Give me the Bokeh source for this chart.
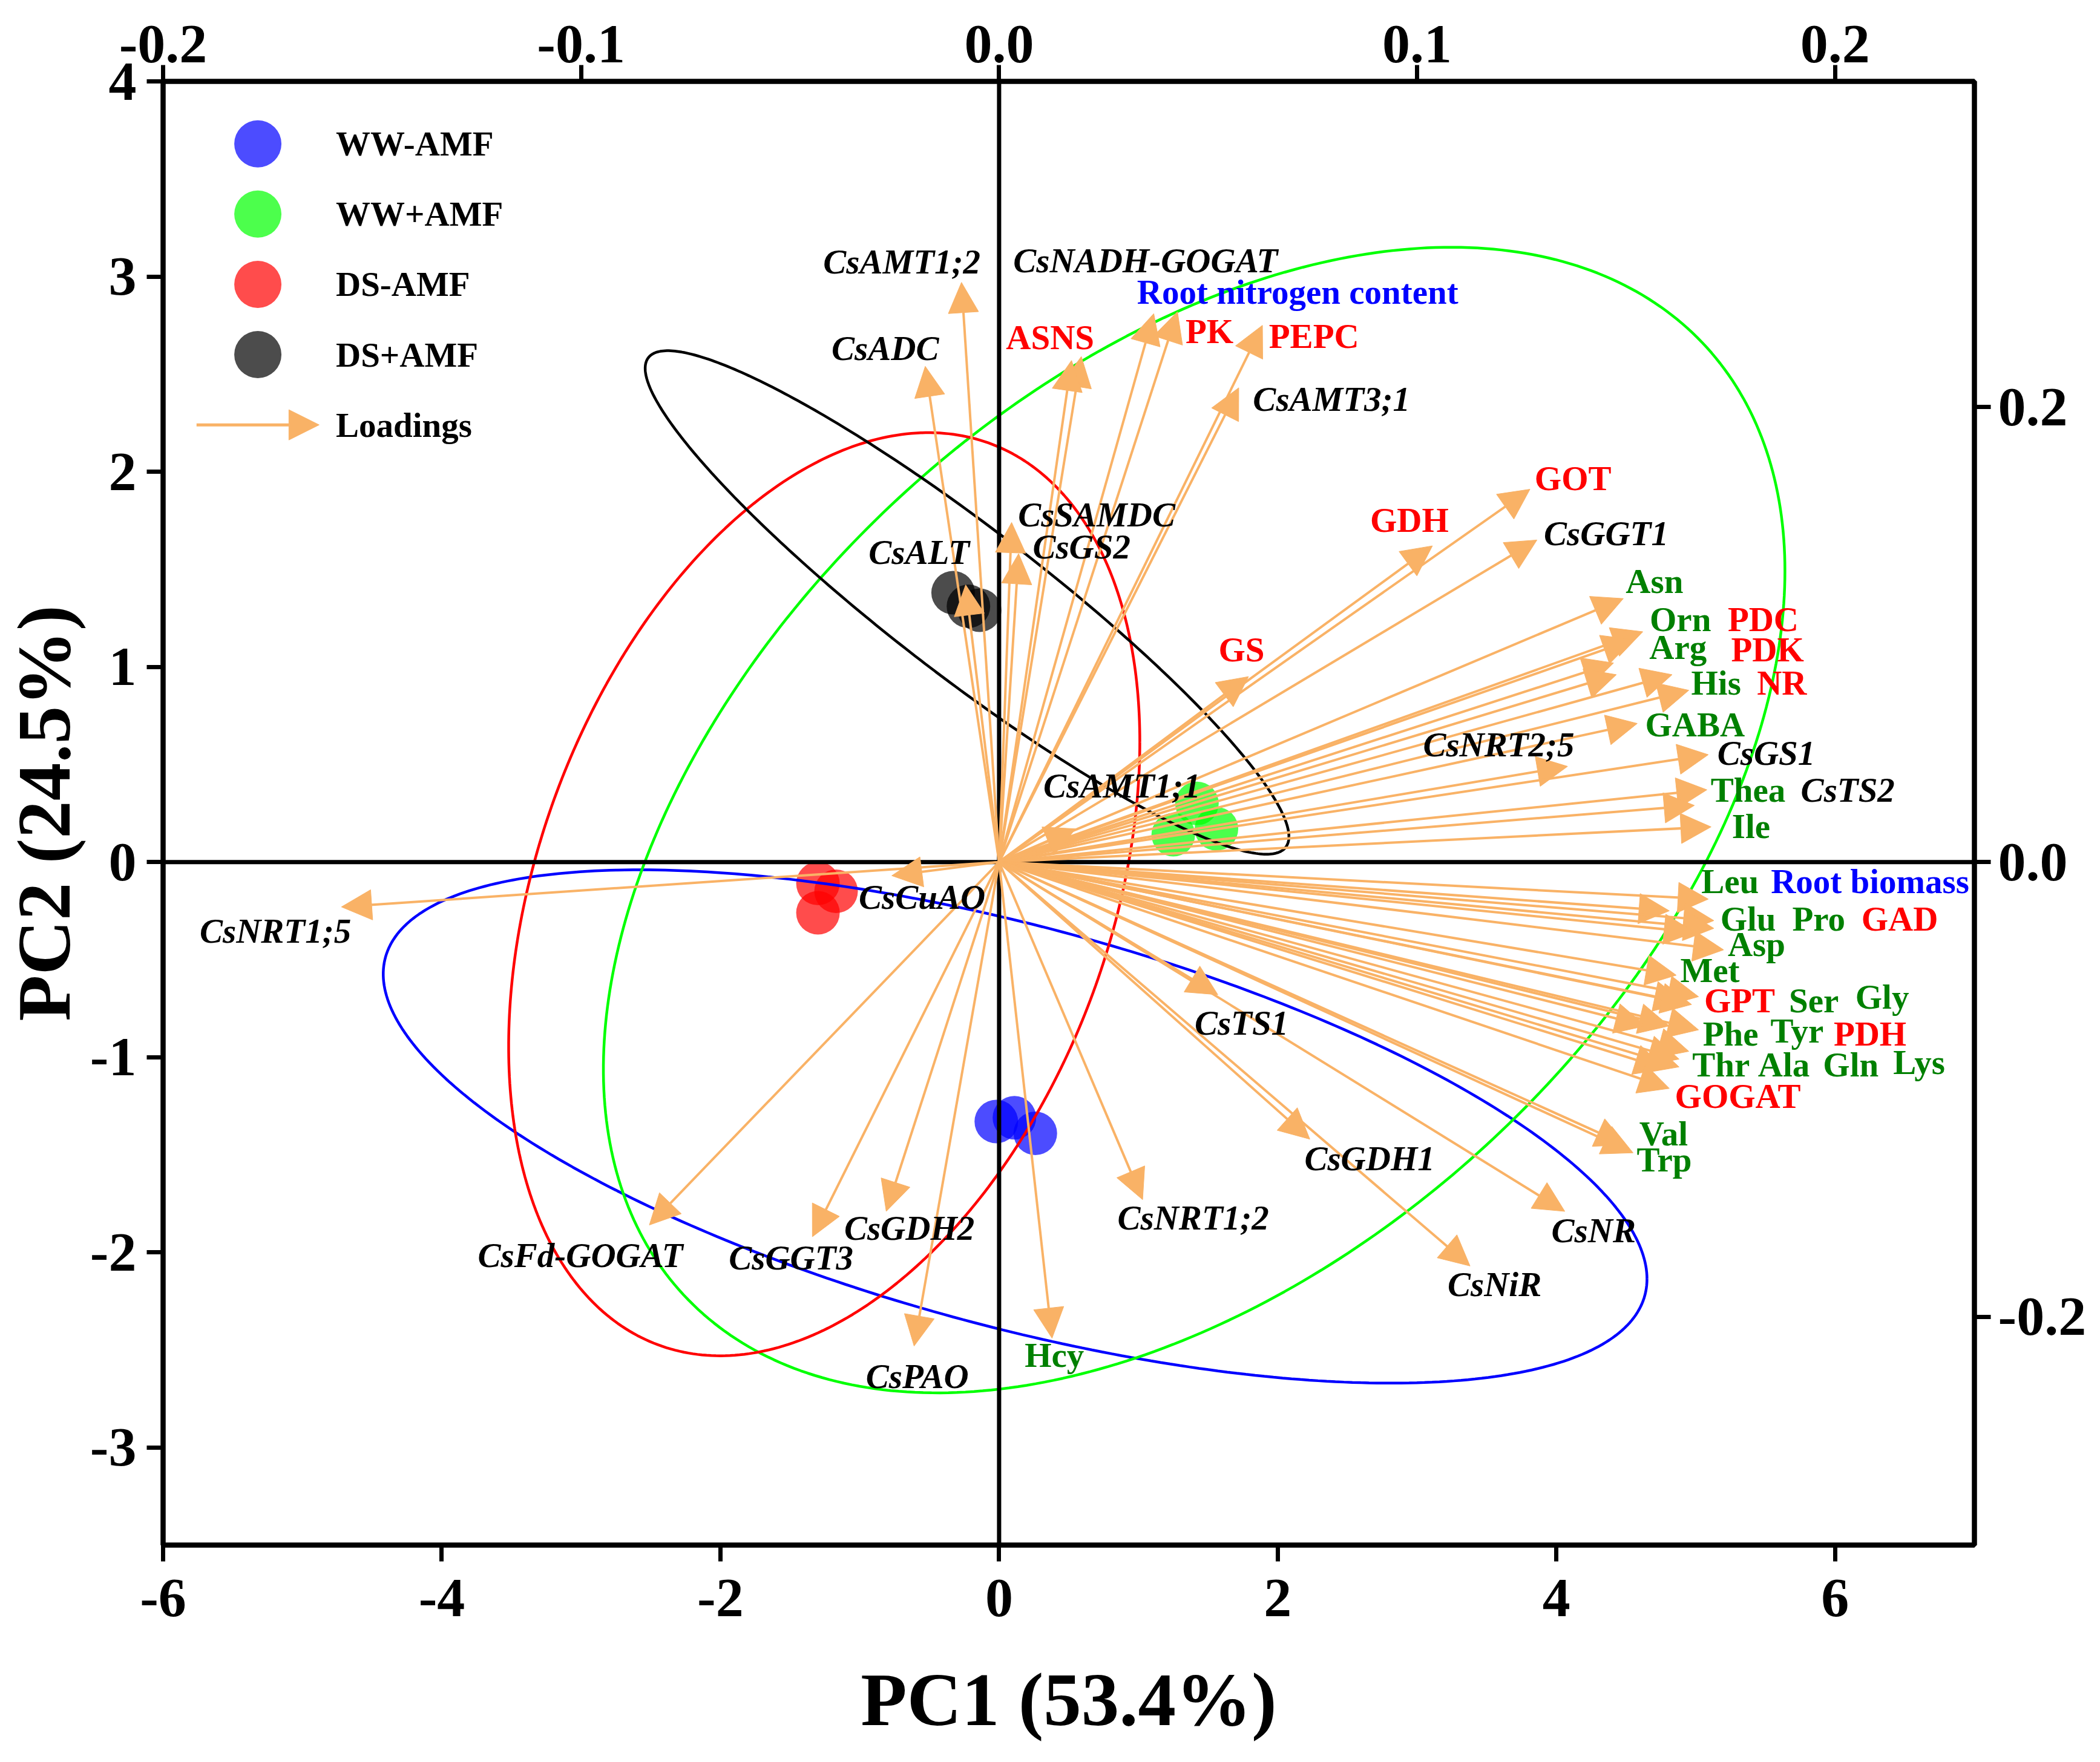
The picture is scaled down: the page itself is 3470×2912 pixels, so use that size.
import numpy as np
from bokeh.plotting import figure
from bokeh.models import (ColumnDataSource, Range1d, LinearAxis, FixedTicker, Arrow,
                          NormalHead, Span, LabelSet, PrintfTickFormatter)
from bokeh.core.properties import value
from bokeh.embed import file_html
from bokeh.resources import INLINE

# ---------------- data ----------------
groups = ["WW-AMF", "WW+AMF", "DS-AMF", "DS+AMF"]
group_colors = ["#0000FF", "#00FF00", "#FF0000", "#000000"]

# sample scores (PC1, PC2)
ww_minus_pc1 = [-0.02, 0.11, 0.26]
ww_minus_pc2 = [-1.33, -1.31, -1.39]
ww_plus_pc1 = [1.42, 1.25, 1.56]
ww_plus_pc2 = [0.30, 0.14, 0.17]
ds_minus_pc1 = [-1.30, -1.17, -1.30]
ds_minus_pc2 = [-0.11, -0.15, -0.26]
ds_plus_pc1 = [-0.33, -0.22, -0.14]
ds_plus_pc2 = [1.38, 1.31, 1.29]

# confidence ellipses: centre, half extent in x and y, correlation
ell_cx = [0.115, 1.40, -1.255, -0.23]
ell_cy = [-1.355, 0.215, -0.165, 1.33]
ell_sx = [4.535, 4.24, 2.265, 2.31]
ell_sy = [1.315, 2.935, 2.365, 1.29]
ell_rho = [-0.594, 0.435, 0.33, -0.93]

# loadings (scaled to PC axes)
load_names = ["CsAMT1;2", "CsADC", "CsNADH-GOGAT", "ASNS", "Root nitrogen content", "PK", "PEPC",
              "CsAMT3;1", "CsSAMDC", "CsGS2", "CsALT", "GDH", "GOT", "CsGGT1", "Asn", "Orn", "PDC",
              "Arg", "PDK", "His", "NR", "GABA", "CsNRT2;5", "CsGS1", "Thea", "CsTS2", "Ile", "Leu",
              "Root biomass", "Glu", "Pro", "GAD", "Asp", "Met", "GPT", "Ser", "Gly", "Phe", "Tyr",
              "PDH", "Thr", "Ala", "Gln", "Lys", "GOGAT", "Val", "Trp", "CsNR", "CsNiR", "CsGDH1",
              "CsTS1", "CsNRT1;2", "Hcy", "CsPAO", "CsGDH2", "CsGGT3", "CsFd-GOGAT", "CsNRT1;5",
              "CsCuAO", "CsAMT1;1", "GS"]
load_pc1 = [-0.27, -0.53, 0.59, 0.52, 1.11, 1.28, 1.89,
            1.72, 0.09, 0.14, -0.24, 3.11, 3.81, 3.86, 4.48, 4.62, 4.55,
            4.41, 4.43, 4.83, 4.95, 4.58, 4.08, 5.09, 5.08, 4.99, 5.11, 5.09,
            4.81, 5.13, 5.13, 4.99, 5.20, 4.86, 5.02, 4.92, 4.97, 5.02, 4.81,
            4.64, 4.95, 4.88, 4.88, 4.78, 4.81, 4.50, 4.55, 4.06, 3.38, 2.23,
            1.57, 1.03, 0.38, -0.61, -0.81, -1.34, -2.51, -4.72,
            -0.77, 0.55, 1.79]
load_pc2 = [2.97, 2.54, 2.59, 2.57, 2.81, 2.82, 2.75,
            2.43, 1.74, 1.58, 1.42, 1.62, 1.91, 1.65, 1.35, 1.18, 1.14,
            1.02, 0.96, 0.96, 0.88, 0.71, 0.49, 0.55, 0.37, 0.29, 0.18, -0.19,
            -0.25, -0.30, -0.34, -0.36, -0.45, -0.58, -0.69, -0.72, -0.73, -0.86, -0.84,
            -0.84, -0.97, -1.01, -1.05, -1.06, -1.16, -1.45, -1.49, -1.79, -2.07, -1.42,
            -0.68, -1.73, -2.44, -2.48, -1.79, -1.92, -1.86, -0.23,
            -0.07, 0.17, 0.95]
enzymes = ["ASNS", "PK", "PEPC", "GDH", "GOT", "PDC", "PDK", "NR", "GAD", "GPT", "PDH", "GOGAT", "GS"]
traits = ["Root nitrogen content", "Root biomass"]

# label anchors (PC units)
label_x = [-0.698, -0.817, 1.051, 0.366, 2.143, 1.510, 2.260,
           2.386, 0.700, 0.592, -0.574, 2.945, 4.119, 4.357, 4.704, 4.890, 5.484,
           4.873, 5.515, 5.146, 5.618, 4.995, 3.586, 5.506, 5.376, 6.091, 5.397, 5.246,
           6.251, 5.376, 5.883, 6.464, 5.436, 5.102, 5.315, 5.848, 6.338, 5.250, 5.727,
           6.251, 5.181, 5.632, 6.113, 6.603, 5.302, 4.769, 4.774, 4.267, 3.556, 2.659,
           1.740, 1.393, 0.397, -0.587, -0.644, -1.493, -3.005, -5.194,
           -0.553, 0.882, 1.740]
label_y = [3.075, 2.632, 3.081, 2.688, 2.920, 2.719, 2.694,
           2.371, 1.779, 1.615, 1.587, 1.751, 1.965, 1.683, 1.438, 1.243, 1.243,
           1.100, 1.088, 0.918, 0.918, 0.704, 0.601, 0.558, 0.369, 0.369, 0.183, -0.099,
           -0.099, -0.291, -0.291, -0.291, -0.420, -0.555, -0.710, -0.710, -0.690, -0.880, -0.865,
           -0.880, -1.038, -1.038, -1.038, -1.025, -1.200, -1.392, -1.525, -1.888, -2.164, -1.519,
           -0.825, -1.823, -2.525, -2.635, -1.875, -2.027, -2.015, -0.353,
           -0.180, 0.391, 1.088]

ORANGE = "#F9B266"
FONT = "Liberation Serif"

# ---------------- figure ----------------
p = figure(width=3450, height=2892, x_range=Range1d(-6, 7), y_range=Range1d(-3.5, 4),
           output_backend="svg", toolbar_location=None,
           x_axis_location=None, y_axis_location=None,
           min_border_left=264, min_border_right=187, min_border_top=134, min_border_bottom=339)
p.xgrid.visible = False
p.ygrid.visible = False
p.outline_line_color = "black"
p.outline_line_width = 8

p.extra_x_ranges = {"top": Range1d(-0.2, 7 / 30.0)}
p.extra_y_ranges = {"right": Range1d(-3.5 * 0.2 / 2.331, 4 * 0.2 / 2.331)}
bottom_ax = LinearAxis(axis_label="PC1 (53.4%)")
left_ax = LinearAxis(axis_label="PC2 (24.5%)")
top_ax = LinearAxis(x_range_name="top")
right_ax = LinearAxis(y_range_name="right")
p.add_layout(bottom_ax, "below")
p.add_layout(left_ax, "left")
p.add_layout(top_ax, "above")
p.add_layout(right_ax, "right")


def style_axis(ax, ticks, fmt, standoff):
    ax.ticker = FixedTicker(ticks=ticks)
    ax.formatter = PrintfTickFormatter(format=fmt)
    ax.axis_line_width = 8
    ax.axis_line_color = "black"
    ax.major_tick_line_width = 7
    ax.major_tick_out = 27
    ax.major_tick_in = 0
    ax.minor_tick_line_color = None
    ax.major_label_text_font = FONT
    ax.major_label_text_font_style = "bold"
    ax.major_label_text_font_size = "92px"
    ax.major_label_text_color = "black"
    ax.major_label_standoff = standoff
    ax.axis_label_text_font = FONT
    ax.axis_label_text_font_style = "bold"
    ax.axis_label_text_font_size = "125px"
    ax.axis_label_text_color = "black"


style_axis(bottom_ax, [-6, -4, -2, 0, 2, 4, 6], "%d", 30)
style_axis(left_ax, [-3, -2, -1, 0, 1, 2, 3, 4], "%d", 17)
style_axis(top_ax, [-0.2, -0.1, 0.0, 0.1, 0.2], "%.1f", 5)
style_axis(right_ax, [-0.2, 0.0, 0.2], "%.1f", 12)
bottom_ax.axis_label_standoff = 66
left_ax.axis_label_standoff = 4

# scores
score_sets = [(ww_minus_pc1, ww_minus_pc2), (ww_plus_pc1, ww_plus_pc2),
              (ds_minus_pc1, ds_minus_pc2), (ds_plus_pc1, ds_plus_pc2)]
for (xs, ys), col in zip(score_sets, group_colors):
    p.scatter(xs, ys, size=72, fill_color=col, fill_alpha=0.7, line_color=None)

# ellipses
t = np.linspace(0, 2 * np.pi, 400)
for cx, cy, sx, sy, r, col in zip(ell_cx, ell_cy, ell_sx, ell_sy, ell_rho, group_colors):
    ex = cx + sx * np.cos(t)
    ey = cy + sy * (r * np.cos(t) + np.sqrt(1 - r * r) * np.sin(t))
    p.line(ex, ey, line_color=col, line_width=4.5)

# zero lines
p.add_layout(Span(location=0, dimension="height", line_color="black", line_width=7))
p.add_layout(Span(location=0, dimension="width", line_color="black", line_width=7))

# loading arrows
n = len(load_names)
arrow_src = ColumnDataSource(dict(x0=[0.0] * n, y0=[0.0] * n, x1=load_pc1, y1=load_pc2))
p.add_layout(Arrow(end=NormalHead(size=50, fill_color=ORANGE, line_color=ORANGE, line_width=1),
                   x_start="x0", y_start="y0", x_end="x1", y_end="y1", source=arrow_src,
                   line_color=ORANGE, line_width=4))

# loading labels
def lab_color(nm):
    if nm.startswith("Cs"):
        return "black"
    if nm in enzymes:
        return "#FF0000"
    if nm in traits:
        return "#0000FF"
    return "#008000"


gene_idx = [i for i, nm in enumerate(load_names) if nm.startswith("Cs")]
other_idx = [i for i, nm in enumerate(load_names) if not nm.startswith("Cs")]
for idx, style in ((gene_idx, "bold italic"), (other_idx, "bold")):
    src = ColumnDataSource(dict(x=[label_x[i] for i in idx], y=[label_y[i] for i in idx],
                                text=[load_names[i] for i in idx],
                                color=[lab_color(load_names[i]) for i in idx]))
    p.add_layout(LabelSet(x="x", y="y", text="text", source=src, text_color="color",
                          text_font=value(FONT), text_font_style=style, text_font_size="57px",
                          text_align="center", text_baseline="middle"))

# legend (drawn manually)
leg_y = [3.68, 3.32, 2.96, 2.60]
p.scatter([-5.32] * 4, leg_y, size=78, fill_color=group_colors, fill_alpha=0.7, line_color=None)
p.text([-4.76] * 4, leg_y, text=groups, text_font=value(FONT), text_font_style="bold",
       text_font_size="57px", text_baseline="middle", text_align="left", text_color="black")
p.add_layout(Arrow(end=NormalHead(size=50, fill_color=ORANGE, line_color=ORANGE, line_width=1),
                   x_start=-5.76, y_start=2.24, x_end=-4.88, y_end=2.24,
                   line_color=ORANGE, line_width=5))
p.text([-4.76], [2.24], text=["Loadings"], text_font=value(FONT), text_font_style="bold",
       text_font_size="57px", text_baseline="middle", text_align="left", text_color="black")

open("out.html", "w").write(file_html(p, INLINE))
